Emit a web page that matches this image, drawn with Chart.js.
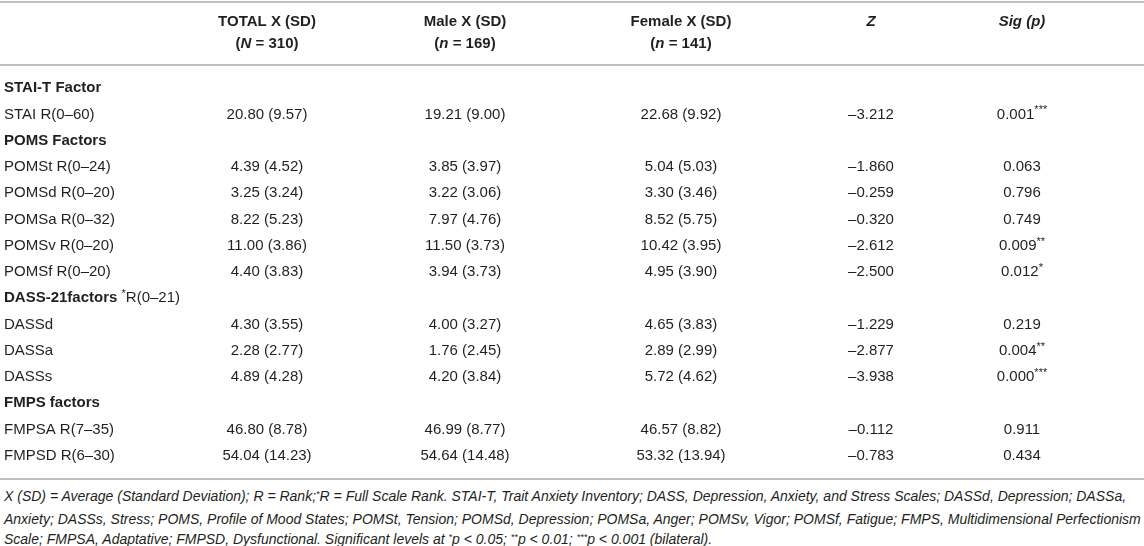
<!DOCTYPE html>
<html>
<head>
<meta charset="utf-8">
<script src="https://cdn.jsdelivr.net/npm/chart.js@4.4.1/dist/chart.umd.min.js"></script>
<style>
  body { margin: 0; background: #fff; }
  #wrap { position: relative; width: 1144px; height: 482px; }
  #note {
    width: 1140px; padding-left: 4px; margin-top: 4px;
    font: italic 14px "Liberation Sans", Arial, sans-serif; line-height: 20.5px;
    color: #231f20; white-space: nowrap;
  }
  #note sup { font-size: 9px; vertical-align: 0; position: relative; top: -0.45em; }
</style>
</head>
<body>
<div id="wrap"><canvas id="tableChart"></canvas></div>
<div id="note">X (SD) = Average (Standard Deviation); R = Rank;<sup>*</sup>R = Full Scale Rank. STAI-T, Trait Anxiety Inventory; DASS, Depression, Anxiety, and Stress Scales; DASSd, Depression; DASSa,<br>Anxiety; DASSs, Stress; POMS, Profile of Mood States; POMSt, Tension; POMSd, Depression; POMSa, Anger; POMSv, Vigor; POMSf, Fatigue; FMPS, Multidimensional Perfectionism<br>Scale; FMPSA, Adaptative; FMPSD, Dysfunctional. Significant levels at <sup>*</sup>p &lt; 0.05; <sup>**</sup>p &lt; 0.01; <sup>***</sup>p &lt; 0.001 (bilateral).</div>
<script>
// groups of factors and the measures inside them
var groups = ['STAI-T Factor', 'POMS Factors', 'DASS-21factors', 'FMPS factors'];
var groupNotes = ['', '', '*R(0–21)', ''];
var measures = ['STAI R(0–60)', 'POMSt R(0–24)', 'POMSd R(0–20)', 'POMSa R(0–32)', 'POMSv R(0–20)',
                'POMSf R(0–20)', 'DASSd', 'DASSa', 'DASSs', 'FMPSA R(7–35)', 'FMPSD R(6–30)'];
var measureGroup = [0, 1, 1, 1, 1, 1, 2, 2, 2, 3, 3];

var totalMean  = [20.80, 4.39, 3.25, 8.22, 11.00, 4.40, 4.30, 2.28, 4.89, 46.80, 54.04];
var totalSD    = [9.57, 4.52, 3.24, 5.23, 3.86, 3.83, 3.55, 2.77, 4.28, 8.78, 14.23];
var maleMean   = [19.21, 3.85, 3.22, 7.97, 11.50, 3.94, 4.00, 1.76, 4.20, 46.99, 54.64];
var maleSD     = [9.00, 3.97, 3.06, 4.76, 3.73, 3.73, 3.27, 2.45, 3.84, 8.77, 14.48];
var femaleMean = [22.68, 5.04, 3.30, 8.52, 10.42, 4.95, 4.65, 2.89, 5.72, 46.57, 53.32];
var femaleSD   = [9.92, 5.03, 3.46, 5.75, 3.95, 3.90, 3.83, 2.99, 4.62, 8.82, 13.94];
var zValues    = [-3.212, -1.860, -0.259, -0.320, -2.612, -2.500, -1.229, -2.877, -3.938, -0.112, -0.783];
var pValues    = [0.001, 0.063, 0.796, 0.749, 0.009, 0.012, 0.219, 0.004, 0.000, 0.911, 0.434];
var sigStars   = ['***', '', '', '', '**', '*', '', '**', '***', '', ''];

// column headers, each line is a list of [text, italic]
var headers = [
  [[['TOTAL X (SD)', false]], [['(', false], ['N', true], [' = 310)', false]]],
  [[['Male X (SD)', false]], [['(', false], ['n', true], [' = 169)', false]]],
  [[['Female X (SD)', false]], [['(', false], ['n', true], [' = 141)', false]]],
  [[['Z', true]]],
  [[['Sig (p)', true]]]
];

// rows of the table: each group followed by its measures
var rowLabels = [];
groups.forEach(function(g, gi) {
  rowLabels.push(g);
  measures.forEach(function(m, mi) { if (measureGroup[mi] === gi) rowLabels.push(m); });
});

var FONT = '"Liberation Sans", Arial, sans-serif';
var INK = '#231f20';
var RULE = '#c0c0c0';
var colX = [4, 267, 465, 681, 871, 1022];   // label column left edge, then value column centres

function pair(a, b) { return a.toFixed(2) + ' (' + b.toFixed(2) + ')'; }
function dash(v) { return (v < 0 ? '–' : '') + Math.abs(v).toFixed(3); }

var columnText = [
  measures.map(function(m, i) { return pair(totalMean[i], totalSD[i]); }),
  measures.map(function(m, i) { return pair(maleMean[i], maleSD[i]); }),
  measures.map(function(m, i) { return pair(femaleMean[i], femaleSD[i]); }),
  zValues.map(dash),
  pValues.map(function(p) { return p.toFixed(3); })
];

function rich(ctx, parts, x, y, align) {
  // parts: [text, font, dy]
  var w = 0;
  parts.forEach(function(p) { ctx.font = p[1]; w += ctx.measureText(p[0]).width; });
  var cx = align === 'center' ? x - w / 2 : x;
  ctx.textAlign = 'left';
  parts.forEach(function(p) {
    ctx.font = p[1];
    ctx.fillText(p[0], cx, y + (p[2] || 0));
    cx += ctx.measureText(p[0]).width;
  });
}

var tablePlugin = {
  id: 'tableText',
  afterDatasetsDraw: function(chart) {
    var ctx = chart.ctx, xs = chart.scales.x, ys = chart.scales.y, area = chart.chartArea;
    ctx.save();
    ctx.fillStyle = INK;
    ctx.textBaseline = 'middle';

    // rules
    ctx.strokeStyle = RULE;
    ctx.lineWidth = 2;
    [2, 65, area.bottom + 10].forEach(function(yy) {
      ctx.beginPath(); ctx.moveTo(0, yy); ctx.lineTo(chart.width, yy); ctx.stroke();
    });

    // header
    headers.forEach(function(lines, c) {
      var cx = xs.getPixelForValue(colX[c + 1]);
      lines.forEach(function(line, li) {
        var yy = 22 + li * 22;
        rich(ctx, line.map(function(p) {
          return [p[0], (p[1] ? 'italic ' : '') + 'bold 15px ' + FONT];
        }), cx, yy, 'center');
      });
    });

    // row labels
    var lx = xs.getPixelForValue(colX[0]);
    rowLabels.forEach(function(lab, i) {
      var yy = ys.getPixelForValue(i);
      var gi = groups.indexOf(lab);
      if (gi >= 0) {
        var parts = [[lab, 'bold 15px ' + FONT]];
        if (groupNotes[gi]) {
          parts.push([' ', '15px ' + FONT]);
          parts.push(['*', '11px ' + FONT, -4]);
          parts.push([groupNotes[gi].slice(1), '15px ' + FONT]);
        }
        rich(ctx, parts, lx, yy, 'left');
      } else {
        rich(ctx, [[lab, '15px ' + FONT]], lx, yy, 'left');
      }
    });

    // cells from dataset points
    chart.data.datasets.forEach(function(ds, c) {
      var meta = chart.getDatasetMeta(c);
      meta.data.forEach(function(pt, i) {
        var parts = [[columnText[c][i], '15px ' + FONT]];
        if (c === 4 && sigStars[i]) parts.push([sigStars[i], '11px ' + FONT, -4]);
        rich(ctx, parts, pt.x, pt.y, 'center');
      });
    });
    ctx.restore();
  }
};

var columnNames = ['TOTAL', 'Male', 'Female', 'Z', 'Sig'];
var ctx = document.getElementById('tableChart').getContext('2d');
var tableChart = new Chart(ctx, {
  type: 'scatter',
  data: {
    datasets: columnNames.map(function(name, c) {
      return {
        label: name,
        data: measures.map(function(m) { return { x: colX[c + 1], y: m }; }),
        pointRadius: 0,
        pointHoverRadius: 0
      };
    })
  },
  options: {
    responsive: true,
    maintainAspectRatio: false,
    animation: false,
    events: [],
    layout: { padding: { top: 75, bottom: 13, left: 0, right: 0 } },
    plugins: { legend: { display: false }, tooltip: { enabled: false } },
    scales: {
      x: { type: 'linear', min: 0, max: 1144, display: false },
      y: { type: 'category', labels: rowLabels, offset: true, display: false }
    }
  },
  plugins: [tablePlugin]
});
</script>
</body>
</html>
